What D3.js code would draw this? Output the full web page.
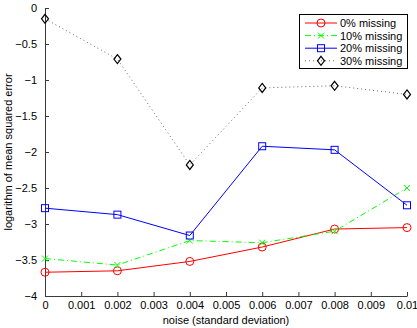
<!DOCTYPE html>
<html>
<head>
<meta charset="utf-8">
<script src="https://cdn.jsdelivr.net/npm/d3@7"></script>
<style>
  html, body { margin: 0; padding: 0; background: #fff; }
  svg { display: block; font-family: "Liberation Sans", Arial, sans-serif; }
</style>
</head>
<body>
<svg id="chart" width="417" height="328"></svg>
<script>
const noise = [0, 0.002, 0.004, 0.006, 0.008, 0.01];
const missing0  = [-3.67, -3.65, -3.52, -3.32, -3.07, -3.05];
const missing10 = [-3.48, -3.57, -3.23, -3.26, -3.10, -2.50];
const missing20 = [-2.78, -2.87, -3.16, -1.92, -1.97, -2.74];
const missing30 = [-0.15, -0.71, -2.18, -1.11, -1.08, -1.20];
const seriesNames = ["0% missing", "10% missing", "20% missing", "30% missing"];
const xTicks = [0, 0.001, 0.002, 0.003, 0.004, 0.005, 0.006, 0.007, 0.008, 0.009, 0.01];
const yTicks = [0, -0.5, -1, -1.5, -2, -2.5, -3, -3.5, -4];

const series = [
  { name: seriesNames[0], values: missing0,  color: "#ff0000", marker: "circle",  dash: null },
  { name: seriesNames[1], values: missing10, color: "#00ff00", marker: "x",       dash: "6,3,1,3" },
  { name: seriesNames[2], values: missing20, color: "#0000ff", marker: "square",  dash: null },
  { name: seriesNames[3], values: missing30, color: "#000000", marker: "diamond", dash: "1,3" }
];

const svg = d3.select("#chart");
const x = d3.scaleLinear().domain([0, 0.01]).range([45, 407]);
const y = d3.scaleLinear().domain([-4, 0]).range([296, 8]);

const axisColor = "#3a3a3a";

// x axis
const xAxis = svg.append("g").attr("transform", "translate(0,296)")
  .call(d3.axisBottom(x).tickValues(xTicks).tickSizeInner(-4).tickSizeOuter(0)
    .tickPadding(5).tickFormat(d => d === 0 ? "0" : d3.format("")(+d.toFixed(3))));
xAxis.select(".domain").attr("stroke", axisColor);
xAxis.selectAll(".tick line").attr("stroke", axisColor);
xAxis.selectAll(".tick text").attr("fill", "#000").attr("font-size", 11)
  .attr("font-family", "'Liberation Sans', Arial, sans-serif");

// y axis
const yAxis = svg.append("g").attr("transform", "translate(45,0)")
  .call(d3.axisLeft(y).tickValues(yTicks).tickSizeInner(-4).tickSizeOuter(0)
    .tickPadding(8).tickFormat(d => d === 0 ? "0" : "\u2212" + Math.abs(d)));
yAxis.select(".domain").attr("stroke", axisColor);
yAxis.selectAll(".tick line").attr("stroke", axisColor);
yAxis.selectAll(".tick text").attr("fill", "#000").attr("font-size", 11)
  .attr("font-family", "'Liberation Sans', Arial, sans-serif");

// labels
svg.append("text").attr("x", 226).attr("y", 324).attr("text-anchor", "middle")
  .attr("font-size", 11).text("noise (standard deviation)");
svg.append("text").attr("transform", "translate(12,152) rotate(-90)")
  .attr("text-anchor", "middle").attr("font-size", 11)
  .text("logarithm of mean squared error");

function drawMarker(g, type, cx, cy, color) {
  if (type === "circle") {
    g.append("circle").attr("cx", cx).attr("cy", cy).attr("r", 4)
      .attr("fill", "none").attr("stroke", color).attr("stroke-width", 1);
  } else if (type === "square") {
    g.append("rect").attr("x", cx - 3.5).attr("y", cy - 3.5).attr("width", 7).attr("height", 7)
      .attr("fill", "none").attr("stroke", color).attr("stroke-width", 1);
  } else if (type === "x") {
    g.append("path").attr("d", `M${cx-3},${cy-3}L${cx+3},${cy+3}M${cx-3},${cy+3}L${cx+3},${cy-3}`)
      .attr("stroke", color).attr("stroke-width", 1);
  } else if (type === "diamond") {
    g.append("path").attr("d", `M${cx},${cy-4.5}L${cx+3.5},${cy}L${cx},${cy+4.5}L${cx-3.5},${cy}Z`)
      .attr("fill", "none").attr("stroke", color).attr("stroke-width", 1.2);
  }
}

const line = d3.line().x(d => x(d[0])).y(d => y(d[1]));

series.forEach(s => {
  const pts = noise.map((n, i) => [n, s.values[i]]);
  const g = svg.append("g");
  g.append("path").datum(pts).attr("d", line)
    .attr("fill", "none").attr("stroke", s.color)
    .attr("stroke-opacity", s.marker === "diamond" ? 0.6 : 1)
    .attr("stroke-width", 1)
    .attr("stroke-dasharray", s.dash);
  pts.forEach(p => drawMarker(g, s.marker, x(p[0]), y(p[1]), s.color));
});

// legend
const lg = svg.append("g");
lg.append("rect").attr("x", 299.5).attr("y", 14.5).attr("width", 108).attr("height", 54)
  .attr("fill", "#fff").attr("stroke", "#000").attr("stroke-width", 1);
series.forEach((s, i) => {
  const cy = 23 + i * 12.6;
  lg.append("line").attr("x1", 305).attr("x2", 337).attr("y1", cy).attr("y2", cy)
    .attr("stroke", s.color).attr("stroke-width", 1)
    .attr("stroke-opacity", s.marker === "diamond" ? 0.6 : 1)
    .attr("stroke-dasharray", s.dash);
  drawMarker(lg, s.marker, 321, cy, s.color);
  lg.append("text").attr("x", 340).attr("y", cy + 4).attr("font-size", 11).text(s.name);
});
</script>
</body>
</html>
